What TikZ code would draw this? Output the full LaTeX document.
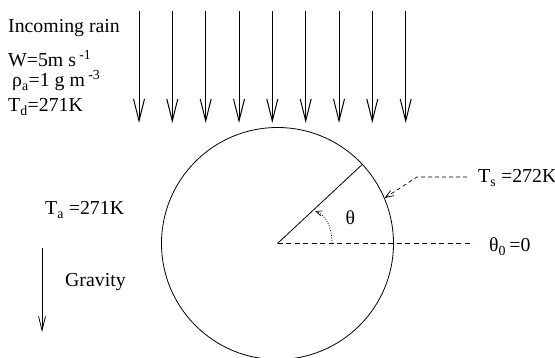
\documentclass[tikz,border=0pt]{standalone}
\usepackage{fontspec}
\setmainfont{Liberation Serif}
\usetikzlibrary{arrows.meta}
\begin{document}
\begin{tikzpicture}[x=1pt,y=-1pt,
  lbl/.style={anchor=base west, inner sep=0pt, font=\fontsize{19.8}{22}\selectfont},
  rain/.style={line width=1pt, -{Straight Barb[length=22pt,width=11pt,line width=1pt]}},
  grav/.style={line width=0.8pt, -{Straight Barb[length=14pt,width=7pt,line width=0.8pt]}},
  lead/.style={line width=0.7pt, dash pattern=on 4pt off 3pt, -{Straight Barb[length=8pt,width=6pt,line width=0.7pt,line cap=butt]}},
  angarrow/.style={line width=0.7pt, dash pattern=on 1pt off 1.5pt, -{Straight Barb[length=6pt,width=5pt,line width=0.7pt]}},
  refline/.style={line width=0.8pt, dash pattern=on 5pt off 3.5pt}]
\useasboundingbox (0,0) rectangle (555,358);

% incoming rain arrows
\foreach \i/\x in {1/139,2/172.3,3/205.7,4/239,5/272.3,6/305.7,7/339,8/372.3,9/405.7}{
  \coordinate (rs\i) at (\x,11);
  \coordinate (re\i) at (\x,123);
  \draw[rain] (rs\i) -- (re\i);
}

% texts top-left
\node[lbl] (inc) at (8,33) {Incoming rain};
\node[lbl] (w) at (8,67) {W=5m s\,\textsuperscript{-1}};
\node[lbl] (rho) at (12,87) {ρ\textsubscript{a}=1 g m\,\textsuperscript{-3}};
\node[lbl] (td) at (8,112) {T\textsubscript{d}=271K};

% drop
\node[draw, circle, minimum size=232pt, inner sep=0pt, line width=0.8pt] (drop) at (277.5,243.5) {};
\draw[line width=0.8pt] (drop.center) -- (drop.43);
\coordinate (hend) at (473,243.5);
\draw[refline] (drop.center) -- (hend);

% angle arrow
\coordinate (a0) at (332,243.5);
\coordinate (a1) at (332,227);
\coordinate (a2) at (326,215);
\coordinate (a3) at (315,211);
\draw[angarrow] (a0) .. controls (a1) and (a2) .. (a3);
\node[lbl] (theta) at (345.5,225) {θ};

% surface temperature leader
\coordinate (tsl) at (467,177);
\coordinate (tsk) at (417,177);
\draw[lead] (tsl) -- (tsk) -- (drop.23);
\node[lbl] (ts) at (478,183) {T\textsubscript{s} =272K};
\node[lbl] (th0) at (489,252) {θ\textsubscript{0}\,=0};

% ambient temperature and gravity
\node[lbl] (ta) at (45,215) {T\textsubscript{a} =271K};
\coordinate (gs) at (42,248);
\coordinate (ge) at (42,332);
\draw[grav] (gs) -- (ge);
\node[lbl] (grv) at (65,287) {Gravity};
\end{tikzpicture}
\end{document}
